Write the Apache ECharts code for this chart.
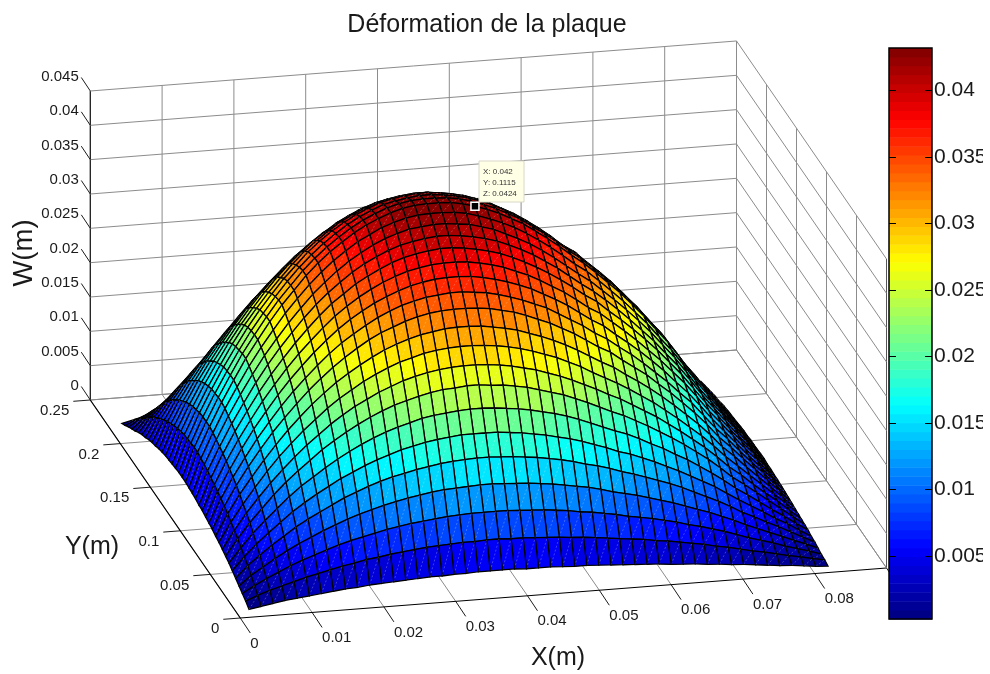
<!DOCTYPE html>
<html><head><meta charset="utf-8"><style>html,body{margin:0;padding:0;background:#fff}#c{width:990px;height:674px}</style>
<script src="https://cdn.jsdelivr.net/npm/echarts@6/dist/echarts.min.js"></script></head><body><div id="c"></div>
<script>
const xTicks=[0,0.01,0.02,0.03,0.04,0.05,0.06,0.07,0.08,0.09];
const yTicks=[0,0.05,0.1,0.15,0.2,0.25];
const zTicks=[0,0.005,0.01,0.015,0.02,0.025,0.03,0.035,0.04,0.045];
const cbTicks=[0.005,0.01,0.015,0.02,0.025,0.03,0.035,0.04];
const cursor=[0.042,0.1115,0.0424];
const xs=[.00168,.00336,.00504,.00672,.0084,.01008,.01176,.01344,.01512,.0168,.01848,.02016,.02184,.02352,.0252,.02688,.02856,.03024,.03192,.0336,.03528,.03696,.03864,.04032,.042,.04368,.04536,.04704,.04872,.0504,.05208,.05376,.05544,.05712,.0588,.06048,.06216,.06384,.06552,.0672,.06888,.07056,.07224,.07392,.0756,.07728,.07896,.08064,.08232];
const ys=[.005575,.01115,.016725,.0223,.027875,.03345,.039025,.0446,.050175,.05575,.061325,.0669,.072475,.07805,.083625,.0892,.094775,.10035,.105925,.1115,.117075,.12265,.128225,.1338,.139375,.14495,.150525,.1561,.161675,.16725,.172825,.1784,.183975,.18955,.195125,.2007,.206275,.21185,.217425];
// deflection W in units of 0.0001 m: one row per y, one column per x
const wRows=[
[4,7,10,13,15,17,19,21,23,24,26,27,28,29,30,31,31,32,32,33,33,33,33,32,32,32,31,30,30,29,28,27,26,25,24,22,21,20,18,17,15,14,12,10,8,7,5,3,2],
[9,16,22,27,32,37,41,45,49,52,56,58,61,63,65,67,68,69,70,70,71,71,70,70,69,68,67,65,64,62,60,58,56,54,51,49,46,43,40,36,33,29,25,22,18,14,11,7,4],
[13,23,32,40,48,55,61,67,73,78,82,86,90,93,96,98,100,102,103,104,104,104,104,103,102,101,99,97,94,92,89,86,82,79,76,72,68,63,59,54,49,43,37,32,27,21,16,11,5],
[17,31,42,53,63,72,80,88,95,102,108,113,118,122,126,129,132,134,135,136,137,137,136,135,134,132,130,127,124,121,117,112,108,104,99,94,89,83,77,71,64,57,49,42,35,28,21,14,7],
[21,38,52,65,77,89,99,108,117,126,133,140,146,151,155,159,162,165,167,168,169,169,168,167,165,163,160,157,153,148,144,139,133,128,122,116,110,103,95,87,79,70,60,52,43,35,26,17,9],
[25,44,61,76,90,104,116,127,137,147,155,163,170,176,182,186,190,193,195,197,197,197,197,195,193,190,187,183,179,174,168,162,155,150,143,136,128,120,111,102,93,82,71,61,51,40,31,20,10],
[29,50,70,87,103,119,133,145,157,168,178,187,195,202,208,213,218,221,223,225,226,226,225,223,221,218,214,210,205,199,192,185,178,172,164,155,147,137,128,117,106,94,81,70,58,46,35,23,12],
[32,56,78,97,116,133,148,162,176,188,199,209,218,226,233,238,243,247,250,251,253,253,251,250,247,244,239,234,229,222,215,207,199,192,183,174,164,154,143,131,119,105,90,78,65,52,39,26,13],
[35,61,85,106,126,144,161,177,191,205,217,228,237,246,253,260,265,269,272,274,275,275,274,272,269,265,261,255,249,242,234,226,217,209,199,189,179,167,155,142,129,114,98,85,70,56,43,28,14],
[38,66,91,114,136,156,174,191,206,221,234,245,256,265,273,280,285,290,293,295,296,296,295,293,290,286,281,275,269,261,253,243,234,225,215,204,193,180,167,153,139,123,106,91,76,61,46,31,15],
[40,71,98,122,145,166,186,204,221,236,250,262,273,283,292,299,305,310,313,316,317,317,316,313,310,306,300,294,287,279,270,260,250,241,229,218,206,193,179,164,149,132,113,98,81,65,49,33,16],
[43,75,104,130,154,177,197,216,234,250,265,278,290,301,310,317,324,329,333,335,336,336,335,333,329,325,319,312,305,296,287,276,265,256,243,231,219,204,190,174,158,140,120,104,86,69,52,35,17],
[45,79,109,136,162,185,207,227,245,262,278,292,304,315,325,333,340,345,349,351,353,353,351,349,345,340,334,327,320,310,300,290,278,268,255,243,229,214,199,182,166,146,126,109,90,72,55,36,18],
[47,82,113,142,169,193,216,237,256,274,290,305,318,329,339,347,354,360,364,367,368,368,367,364,360,355,349,342,333,324,314,302,290,280,266,253,239,224,208,190,173,153,132,113,94,75,57,38,19],
[49,85,118,148,175,201,224,246,266,284,301,317,330,342,352,361,368,374,378,381,382,382,381,378,374,369,362,355,346,336,326,314,301,291,277,263,248,232,216,198,180,159,137,118,98,78,60,39,20],
[50,88,122,153,181,208,232,254,275,294,312,328,341,354,364,373,381,387,391,394,396,396,394,391,387,382,375,367,358,348,337,325,312,301,286,272,257,241,224,205,186,164,142,122,101,81,62,41,21],
[52,91,125,157,186,214,239,262,283,303,321,337,351,364,375,384,392,398,402,405,407,407,405,402,398,393,386,378,369,358,347,334,321,309,295,280,264,247,230,210,191,169,146,125,104,83,63,42,21],
[53,93,128,161,191,219,245,268,290,310,329,345,360,373,384,394,402,408,413,415,417,417,415,413,408,403,395,387,378,367,355,342,329,317,302,287,271,254,236,216,196,173,149,128,107,86,65,43,22],
[54,95,131,165,195,224,250,274,297,317,336,353,368,381,393,402,411,417,422,425,426,426,425,422,417,411,404,396,386,375,363,350,336,324,309,293,277,259,241,220,200,177,153,131,109,87,67,44,22],
[55,97,133,167,198,228,254,279,302,322,342,359,374,387,399,409,417,424,429,432,433,433,432,429,424,418,411,402,393,381,369,356,342,329,314,298,282,264,245,224,204,180,155,133,111,89,68,45,23],
[55,97,133,167,198,228,254,279,302,322,342,359,374,387,399,409,417,424,429,432,433,433,432,429,424,418,411,402,393,381,369,356,342,329,314,298,282,264,245,224,204,180,155,133,111,89,68,45,23],
[55,96,133,166,197,226,253,277,300,321,340,357,372,385,397,407,415,422,426,429,431,431,429,426,422,416,409,400,390,379,367,354,340,328,312,297,280,262,244,223,203,179,154,133,110,88,67,44,22],
[54,95,132,165,196,224,251,275,297,318,336,354,369,382,393,403,411,418,422,425,427,427,425,422,418,412,405,396,387,376,364,351,336,325,309,294,278,260,241,221,201,177,153,132,109,88,67,44,22],
[53,94,129,162,192,221,247,270,292,312,331,348,362,375,387,396,404,411,415,418,420,420,418,415,411,405,398,390,381,370,358,345,331,319,304,289,273,255,237,217,197,174,150,129,108,86,66,43,22],
[52,92,127,159,188,216,241,264,286,306,324,340,355,367,379,388,396,402,406,409,411,411,409,406,402,397,390,381,372,362,350,337,324,312,298,283,267,250,232,212,193,171,147,127,105,84,64,42,21],
[51,89,123,154,183,209,234,257,278,297,314,330,344,357,367,377,384,390,395,397,399,399,397,395,390,385,378,370,361,351,340,328,314,303,289,275,259,243,225,206,188,166,143,123,102,82,62,41,21],
[49,86,119,149,176,202,226,248,268,286,303,319,332,344,355,363,371,377,381,383,385,385,383,381,377,372,365,357,349,339,328,316,303,293,279,265,250,234,218,199,181,160,138,119,99,79,60,40,20],
[47,82,113,142,169,193,216,237,256,274,290,305,318,329,339,347,354,360,364,367,368,368,367,364,360,355,349,342,333,324,314,302,290,280,266,253,239,224,208,190,173,153,132,113,94,75,57,38,19],
[44,78,108,135,160,184,205,225,244,260,276,290,302,313,322,330,337,342,346,349,350,350,349,346,342,338,332,325,317,308,298,287,276,266,253,241,228,213,198,181,165,145,125,108,90,72,55,36,18],
[42,73,101,127,151,173,193,212,229,245,259,272,284,294,303,311,317,322,325,328,329,329,328,325,322,317,312,305,298,290,280,270,259,250,238,226,214,200,186,170,155,137,118,101,84,67,51,34,17],
[39,68,94,118,140,160,179,196,212,227,240,253,263,273,281,288,294,298,302,304,305,305,304,302,298,294,289,283,276,268,260,250,240,232,221,210,198,185,172,158,143,127,109,94,78,63,48,31,16],
[35,62,86,108,128,146,164,179,194,208,220,231,241,249,257,263,269,273,276,278,279,279,278,276,273,269,264,259,253,246,238,229,220,212,202,192,181,170,158,144,131,116,100,86,71,57,44,29,15],
[32,56,77,97,115,132,147,161,175,187,198,208,217,224,231,237,242,245,248,250,251,251,250,248,245,242,238,233,227,221,214,206,198,191,182,173,163,153,142,130,118,104,90,77,64,51,39,26,13],
[28,49,67,85,100,115,129,141,152,163,173,181,189,196,202,207,211,214,217,218,219,219,218,217,214,211,208,203,198,193,187,180,173,166,159,151,142,133,124,113,103,91,78,67,56,45,34,23,11],
[23,41,57,71,85,97,109,119,129,138,146,153,160,165,170,175,178,181,183,184,185,185,184,183,181,179,175,172,168,163,158,152,146,141,134,127,120,112,105,96,87,77,66,57,47,38,29,19,10],
[19,33,46,58,69,79,88,96,104,112,118,124,129,134,138,142,144,147,148,149,150,150,149,148,147,145,142,139,136,132,128,123,118,114,109,103,98,91,85,78,71,62,54,46,38,31,23,15,8],
[15,26,36,45,53,61,68,75,81,86,91,96,100,104,107,110,112,113,115,116,116,116,116,115,113,112,110,108,105,102,99,95,91,88,84,80,75,71,66,60,55,48,42,36,30,24,18,12,6],
[10,18,25,32,38,43,48,53,57,61,65,68,71,73,76,77,79,80,81,82,82,82,82,81,80,79,78,76,74,72,70,67,65,62,59,56,53,50,46,42,39,34,29,25,21,17,13,8,4],
[6,10,14,17,21,24,26,29,31,33,35,37,39,40,41,42,43,44,45,45,45,45,45,45,44,43,43,42,41,40,38,37,35,34,33,31,29,27,25,23,21,19,16,14,12,9,7,5,2]
];
const W=wRows.map(r=>r.map(v=>v/10000));
const cMin=0.00026,cMax=0.0432;
const P=(x,y,z)=>[240.3+7180*x-600*y,618-555.6*x-872*y-6867*z];
function jet(t){const f=a=>Math.round(255*Math.max(0,Math.min(1,1.5-Math.abs(4*t-a))));return `rgb(${f(3)},${f(2)},${f(1)})`;}
const band=z=>{let k=Math.floor((z-cMin)/(cMax-cMin)*64);k=Math.max(0,Math.min(63,k));return jet((k+.5)/64);};
const xMax=0.09,yMax=0.25,zMax=0.045;
const GRID='#8c8c8c',DARK='#1c1c1c',INK='#1a1a1a';
const lines=[];
const add=(a,b,col,w)=>lines.push({a,b,col,w});
xTicks.forEach(x=>{add(P(x,0,0),P(x,yMax,0),GRID,1);add(P(x,yMax,0),P(x,yMax,zMax),x===0?DARK:GRID,x===0?1.3:1);const p=P(x,0,0);add(p,[p[0]+10,p[1]+15],DARK,1);});
yTicks.forEach(y=>{add(P(0,y,0),P(xMax,y,0),y===0?'#000':GRID,y===0?1.2:1);add(P(xMax,y,0),P(xMax,y,zMax),y===0?'#555':GRID,1);const p=P(0,y,0);add(p,[p[0]-17,p[1]+1.3],DARK,1);});
zTicks.forEach(z=>{add(P(0,yMax,z),P(xMax,yMax,z),GRID,1);add(P(xMax,yMax,z),P(xMax,0,z),GRID,1);const p=P(0,yMax,z);add(p,[p[0]-9,p[1]-13.5],DARK,1);});
add(P(0,0,0),P(0,yMax,0),'#000',1.2);
const texts=[];
const lab=(s,p,dx,dy,al)=>texts.push({s,x:p[0]+dx,y:p[1]+dy,al});
xTicks.slice(0,9).forEach(x=>lab(String(x),P(x,0,0),10,25.5,'left'));
yTicks.forEach(y=>lab(String(y),P(0,y,0),-21,11,'right'));
zTicks.forEach(z=>lab(String(z),P(0,yMax,z),-11.5,-14,'right'));
const cells=[];
for(let j=ys.length-2;j>=0;j--)for(let i=xs.length-2;i>=0;i--)cells.push([i,j]);
const bands=[];for(let k=0;k<64;k++)bands.push(k);
const chart=echarts.init(document.getElementById('c'),null,{renderer:'canvas'});
chart.setOption({animation:false,backgroundColor:'#fff',
title:{text:'Déformation de la plaque',left:482,top:8,textAlign:'center',textStyle:{fontFamily:'Liberation Sans',fontWeight:'normal',fontSize:25,color:INK}},
grid:[{left:0,right:0,top:0,bottom:0},{left:889,top:48,width:43,height:571}],
xAxis:[{type:'value',min:0,max:990,show:false,gridIndex:0},{type:'value',min:0,max:1,show:false,gridIndex:1}],
yAxis:[{type:'value',min:0,max:674,inverse:true,show:false,gridIndex:0},
{type:'value',gridIndex:1,min:cMin,max:cMax,position:'left',z:5,splitLine:{show:false},axisLine:{show:false},axisLabel:{show:false},axisTick:{show:true,inside:true,length:7,lineStyle:{color:'#000'},customValues:cbTicks}},
{type:'value',gridIndex:1,min:cMin,max:cMax,position:'right',z:5,splitLine:{show:false},axisLine:{show:false},axisLabel:{show:false},axisTick:{show:true,inside:true,length:7,lineStyle:{color:'#000'},customValues:cbTicks}}],
graphic:[
{type:'rect',z:100,silent:true,shape:{x:889,y:48,width:43,height:571},style:{fill:'none',stroke:'#000',lineWidth:1.5}},
{type:'rect',z:100,silent:true,shape:{x:983,y:0,width:7,height:674},style:{fill:'#fff'}},
{type:'text',z:50,x:558,y:658,style:{text:'X(m)',font:'25px "Liberation Sans"',fill:INK,textAlign:'center',textVerticalAlign:'middle'}},
{type:'text',z:50,x:92,y:547,style:{text:'Y(m)',font:'25px "Liberation Sans"',fill:INK,textAlign:'center',textVerticalAlign:'middle'}},
{type:'text',z:50,x:24.5,y:253,rotation:Math.PI/2,style:{text:'W(m)',font:'27.5px "Liberation Sans"',fill:INK,textAlign:'center',textVerticalAlign:'middle'}},
{type:'rect',z:60,silent:true,shape:{x:479,y:161,width:45,height:41},style:{fill:'#ffffe6',stroke:'#d8d8c8',lineWidth:1}},
{type:'text',z:61,x:483,y:166,style:{text:'X: '+cursor[0]+'\nY: '+cursor[1]+'\nZ: '+cursor[2],font:'8px "Liberation Sans"',lineHeight:11,fill:'#333'}}
],
series:[
{type:'custom',coordinateSystem:'cartesian2d',xAxisIndex:0,yAxisIndex:0,silent:true,clip:false,z:1,data:lines.map((l,n)=>[n]),renderItem:(p,api)=>{const l=lines[api.value(0)];const a=api.coord(l.a),b=api.coord(l.b);return{type:'line',shape:{x1:a[0],y1:a[1],x2:b[0],y2:b[1]},style:{stroke:l.col,lineWidth:l.w}};}},
{type:'custom',coordinateSystem:'cartesian2d',xAxisIndex:0,yAxisIndex:0,silent:true,clip:false,z:2,data:texts.map((t,n)=>[n]),renderItem:(p,api)=>{const t=texts[api.value(0)];const a=api.coord([t.x,t.y]);return{type:'text',x:a[0],y:a[1],style:{text:t.s,font:'15px "Liberation Sans"',fill:INK,textAlign:t.al,textVerticalAlign:'middle'}};}},
{type:'custom',coordinateSystem:'cartesian2d',xAxisIndex:0,yAxisIndex:0,silent:true,clip:false,z:3,progressive:0,data:cells,renderItem:(p,api)=>{const i=api.value(0),j=api.value(1);
const q=(a,b)=>api.coord(P(xs[a],ys[b],W[b][a]));
const A=q(i,j),B=q(i+1,j),C=q(i+1,j+1),D=q(i,j+1);
const cellZ=(W[j][i]+W[j+1][i])/2;
return{type:'group',children:[{type:'polygon',shape:{points:[A,B,C,D]},style:{fill:band(cellZ),stroke:'#000',lineWidth:1.3}},{type:'line',shape:{x1:A[0],y1:A[1],x2:C[0],y2:C[1]},style:{stroke:'rgba(255,255,255,0.35)',lineWidth:0.7,lineDash:[2,2]}}]};}},
{type:'custom',coordinateSystem:'cartesian2d',xAxisIndex:0,yAxisIndex:0,silent:true,clip:false,z:4,data:[cursor],renderItem:(p,api)=>{const c=api.coord(P(api.value(0),api.value(1),api.value(2)));return{type:'rect',shape:{x:c[0]-4,y:c[1]-4,width:8,height:8},style:{fill:'#000',stroke:'#fff',lineWidth:1.5}};}},
{type:'custom',coordinateSystem:'cartesian2d',xAxisIndex:1,yAxisIndex:1,silent:true,clip:false,z:3,data:bands,encode:{x:0},renderItem:(p,api)=>{const k=p.dataIndex;const v0=cMin+(cMax-cMin)*k/64,v1=cMin+(cMax-cMin)*(k+1)/64;const a=api.coord([0,v0]),b=api.coord([1,v1]);return{type:'rect',shape:{x:a[0],y:b[1],width:b[0]-a[0],height:a[1]-b[1]+0.5},style:{fill:jet((k+.5)/64)}};}},
{type:'custom',coordinateSystem:'cartesian2d',xAxisIndex:1,yAxisIndex:1,silent:true,clip:false,z:6,data:cbTicks.map(v=>[1,v]),renderItem:(p,api)=>{const c=api.coord([api.value(0),api.value(1)]);return{type:'text',x:c[0]+2,y:c[1],style:{text:String(api.value(1)),font:'21px "Liberation Sans"',fill:INK,textAlign:'left',textVerticalAlign:'middle'}};}}
]});
</script></body></html>
